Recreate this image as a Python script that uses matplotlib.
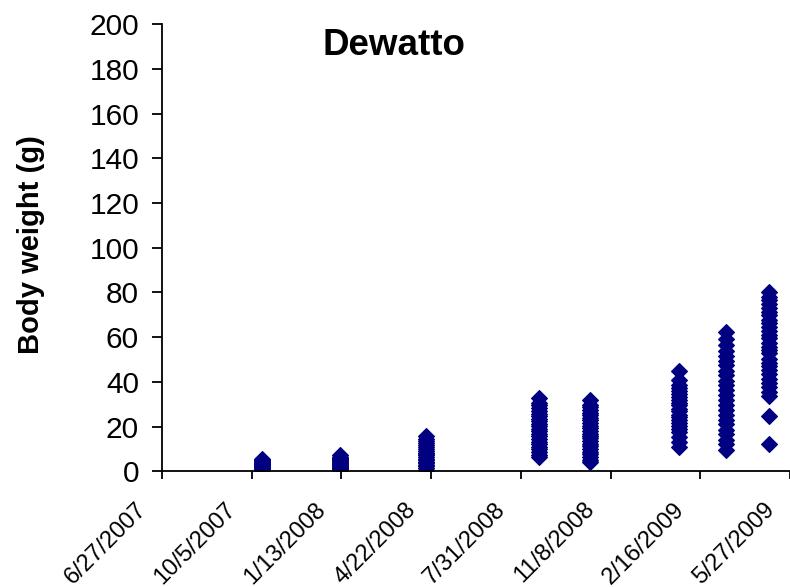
import datetime as dt
import matplotlib
matplotlib.use("Agg")
import matplotlib.pyplot as plt
from matplotlib.transforms import ScaledTranslation

plt.rcParams['font.family'] = ['Liberation Sans', 'DejaVu Sans']

# sampling dates and body weights (g) of every fish weighed on that date
sample_dates = ['2007-10-17', '2008-01-11', '2008-04-16', '2008-08-20',
                '2008-10-16', '2009-01-23', '2009-03-17', '2009-05-04']
weights = [
    [0.8, 1.2, 1.7, 2.0, 2.4, 2.7, 3.1, 3.4, 3.9, 4.1, 4.6, 4.9, 5.3, 5.6],
    [0.7, 1.1, 1.6, 2.0, 2.3, 2.9, 3.3, 3.6, 4.2, 4.6, 5.1, 5.5, 6.1, 6.6, 7.4],
    [0.8, 1.4, 2.2, 2.8, 3.6, 4.3, 4.9, 5.6, 6.3, 7.1, 7.8, 8.4, 9.3, 10.1,
     10.8, 11.8, 12.6, 13.4, 14.6, 15.9],
    [6.2, 7.4, 8.6, 9.9, 11.0, 12.2, 13.3, 14.4, 15.6, 16.9, 17.9, 19.0,
     20.3, 21.4, 22.6, 23.6, 24.8, 25.6, 27.1, 28.4, 29.6, 30.5, 33.0],
    [4.1, 5.2, 6.5, 7.7, 8.8, 9.9, 11.2, 12.3, 13.4, 14.7, 15.8, 16.9, 18.2,
     19.3, 20.4, 21.7, 22.8, 23.9, 25.2, 26.3, 27.4, 28.6, 29.7, 32.0],
    [11.0, 13.1, 15.4, 17.7, 19.0, 20.4, 21.5, 22.9, 24.3, 25.4, 26.9, 28.0,
     29.5, 30.6, 32.1, 33.2, 34.7, 35.8, 37.3, 38.6, 41.0, 45.0],
    [9.6, 12.1, 14.2, 16.6, 18.7, 21.0, 23.0, 25.4, 27.4, 29.8, 31.8, 34.2,
     36.2, 38.6, 40.6, 43.0, 45.0, 47.4, 49.4, 51.8, 53.6, 56.4, 59.0, 62.5],
    [12.3, 24.8, 33.8, 35.6, 37.9, 39.5, 41.2, 43.6, 45.1, 46.9, 48.4, 50.2,
     52.7, 54.1, 55.8, 57.3, 59.6, 61.0, 62.8, 64.5, 66.2, 67.9, 69.7, 71.3,
     73.0, 74.8, 76.5, 78.1, 80.2],
]
tick_labels = ['6/27/2007', '10/5/2007', '1/13/2008', '4/22/2008',
               '7/31/2008', '11/8/2008', '2/16/2009', '5/27/2009']
y_ticks = [0, 20, 40, 60, 80, 100, 120, 140, 160, 180, 200]


def parse_mdy(s):
    m, d, y = s.split('/')
    return dt.date(int(y), int(m), int(d))


fig = plt.figure(figsize=(7.9, 5.87), dpi=100)
ax = fig.add_axes([0.205, 0.197, 0.795, 0.762])

for day, w in zip(sample_dates, weights):
    x = [dt.date.fromisoformat(day)] * len(w)
    ax.plot(x, w, linestyle='none', marker='D', markersize=7.8,
            color='#000080', markeredgecolor='#000080', markeredgewidth=0.8)

ticks = [parse_mdy(s) for s in tick_labels]
ax.set_xlim(ticks[0], ticks[-1])
ax.set_xticks(ticks)
ax.set_ylim(0, 200)
ax.set_yticks(y_ticks)
ax.tick_params(axis='y', labelsize=21.5, length=7.5, width=1.3, pad=9)
ax.tick_params(axis='x', length=6, width=1.3, pad=19)

ax.set_xticklabels(tick_labels, rotation=45, ha='right', va='center',
                   rotation_mode='anchor', fontsize=17)
# pull the slanted dates to the left of their ticks
shift = ScaledTranslation(-19 / 100, 0, fig.dpi_scale_trans)
for lab in ax.get_xticklabels():
    lab.set_transform(lab.get_transform() + shift)

for side in ('top', 'right'):
    ax.spines[side].set_visible(False)
for side in ('left', 'bottom'):
    ax.spines[side].set_linewidth(1.3)

ax.set_ylabel('Body weight (g)', fontsize=21, fontweight='bold')
ax.yaxis.set_label_coords(-0.186, 0.507)
fig.text(0.499, 0.922, 'Dewatto', fontsize=26.5, fontweight='bold',
         ha='center', va='center')

fig.savefig('out.png', dpi=100)
